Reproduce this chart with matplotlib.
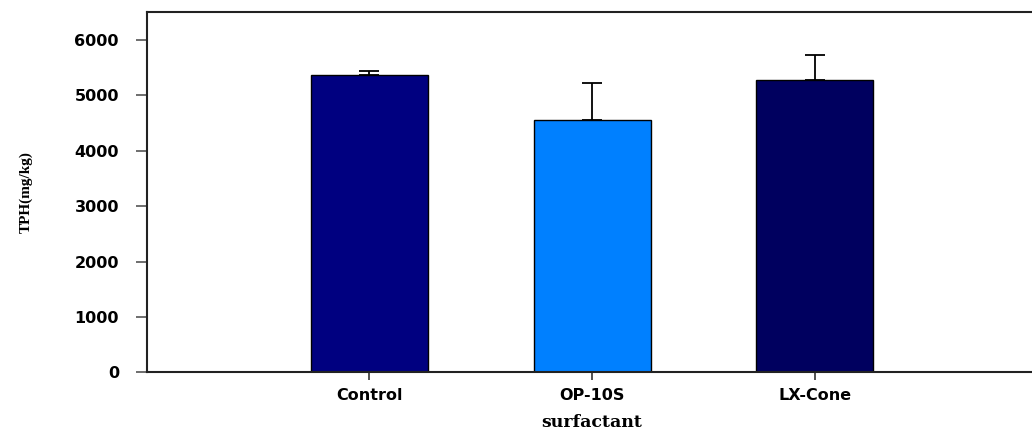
import numpy as np
import matplotlib
matplotlib.use('Agg')
import matplotlib.pyplot as plt

# 表面活性剂处理后的 TPH 含量
categories = ['Control', 'OP-10S', 'LX-Cone']
tph_mean = [5365, 4550, 5270]
tph_err = [80, 665, 468]
bar_colors = ['#000080', '#0080ff', '#00005f']


def draw():
    fig = plt.figure(figsize=(10.32, 4.32), dpi=100)
    ax = fig.add_axes([0.1422, 0.1382, 0.8632, 0.8333])

    x = np.arange(len(categories))
    ax.bar(x, tph_mean, width=0.525, color=bar_colors,
           edgecolor='black', linewidth=1.0, zorder=2)
    # 只画上半部分误差线
    lower = [0] * len(tph_err)
    ax.errorbar(x, tph_mean, yerr=[lower, tph_err], fmt='none',
                ecolor='black', elinewidth=1.3, capsize=7, capthick=1.3, zorder=3)

    ax.set_xlim(-1.0, 3.0)
    ax.set_ylim(0, 6500)
    ax.set_yticks(range(0, 7000, 1000))
    ax.set_xticks(x)
    ax.set_xticklabels(categories)

    for lab in ax.get_xticklabels() + ax.get_yticklabels():
        lab.set_fontfamily('DejaVu Sans')
        lab.set_fontweight('bold')
        lab.set_fontsize(11.5)

    ax.tick_params(axis='y', direction='out', length=8, width=1.2,
                   color='#555555', pad=12)
    ax.tick_params(axis='x', direction='out', length=6, width=1.2,
                   color='#333333', pad=5)

    for side in ['left', 'top', 'bottom']:
        ax.spines[side].set_linewidth(1.5)
        ax.spines[side].set_color('#222222')
    ax.spines['right'].set_visible(False)

    ax.set_xlabel('surfactant', fontfamily='DejaVu Serif', fontweight='bold',
                  fontsize=12.5, labelpad=8)
    ax.set_ylabel('TPH(mg/kg)', fontfamily='Liberation Serif', fontweight='bold',
                  fontsize=11, labelpad=30)

    fig.savefig('out.png', dpi=100)


if __name__ == '__main__':
    draw()
